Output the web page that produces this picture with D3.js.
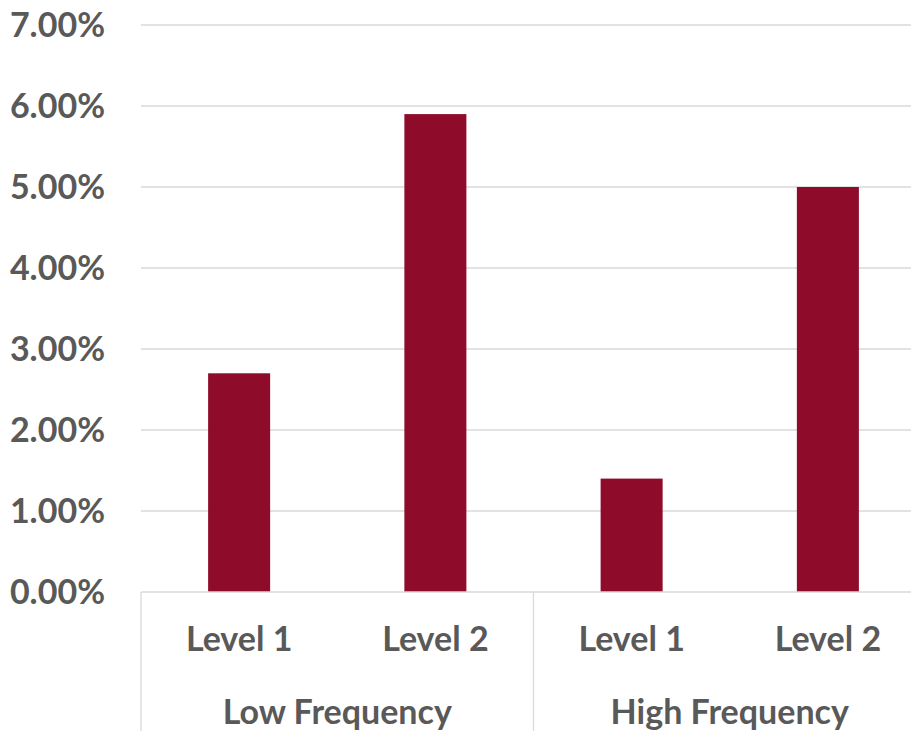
<!DOCTYPE html>
<html><head><meta charset="utf-8">
<script src="https://cdn.jsdelivr.net/npm/d3@7"></script>
<style>body{margin:0;background:#fff}svg{display:block}</style>
</head><body>
<svg id="c" width="911" height="731"></svg>
<script>
const groups = ["Low Frequency", "High Frequency"];
const levels = ["Level 1", "Level 2"];
const values = [0.027, 0.059, 0.014, 0.050];
const yTicks = [0, 0.01, 0.02, 0.03, 0.04, 0.05, 0.06, 0.07];

(function () {
const svg = d3.select("#c");
const W = 911, H = 731;
const mLeft = 141, mRight = 911, mTop = 25, mBottom = 592;
const xEnd = 926; // category area extends past the window edge
const font = "Lato, 'Open Sans', sans-serif";
const txt = "#595959";
const fs = 34;

const cats = [];
groups.forEach(g => levels.forEach(l => cats.push(g + "|" + l)));

const x = d3.scaleBand().domain(cats).range([mLeft, xEnd]).paddingInner(0.684).paddingOuter(0.342);
const y = d3.scaleLinear().domain([0, 0.07]).range([mBottom, mTop]);

svg.append("g").selectAll("line").data(yTicks.slice(1)).join("line")
  .attr("x1", mLeft).attr("x2", mRight)
  .attr("y1", d => y(d)).attr("y2", d => y(d))
  .attr("stroke", "#d9d9d9").attr("stroke-width", 1.3);

svg.append("g").selectAll("text").data(yTicks).join("text")
  .attr("x", 105).attr("y", d => y(d) + 12)
  .attr("text-anchor", "end")
  .attr("font-family", font).attr("font-weight", 700).attr("font-size", fs)
  .attr("fill", txt)
  .text(d => d3.format(".2%")(d));

svg.append("g").selectAll("rect").data(values).join("rect")
  .attr("x", (d, i) => x(cats[i]))
  .attr("width", x.bandwidth())
  .attr("y", d => y(d))
  .attr("height", d => y(0) - y(d))
  .attr("fill", "#8f0b2a");

svg.append("line").attr("x1", mLeft).attr("x2", mRight).attr("y1", mBottom).attr("y2", mBottom)
  .attr("stroke", "#d9d9d9").attr("stroke-width", 1.3);

const step = (xEnd - mLeft) / cats.length;
const sepX = [mLeft, mLeft + step * 2, xEnd];
svg.append("g").selectAll("line").data(sepX).join("line")
  .attr("x1", d => d).attr("x2", d => d).attr("y1", mBottom).attr("y2", H)
  .attr("stroke", "#d9d9d9").attr("stroke-width", 1.3);

svg.append("g").selectAll("text").data(cats).join("text")
  .attr("x", d => x(d) + x.bandwidth() / 2).attr("y", 651)
  .attr("text-anchor", "middle")
  .attr("font-family", font).attr("font-weight", 700).attr("font-size", fs)
  .attr("fill", txt)
  .text(d => d.split("|")[1]);

svg.append("g").selectAll("text").data(groups).join("text")
  .attr("x", (d, i) => mLeft + step * 2 * i + step)
  .attr("y", 724)
  .attr("text-anchor", "middle")
  .attr("font-family", font).attr("font-weight", 700).attr("font-size", fs)
  .attr("fill", txt)
  .text(d => d);
})();
</script>
</body></html>
